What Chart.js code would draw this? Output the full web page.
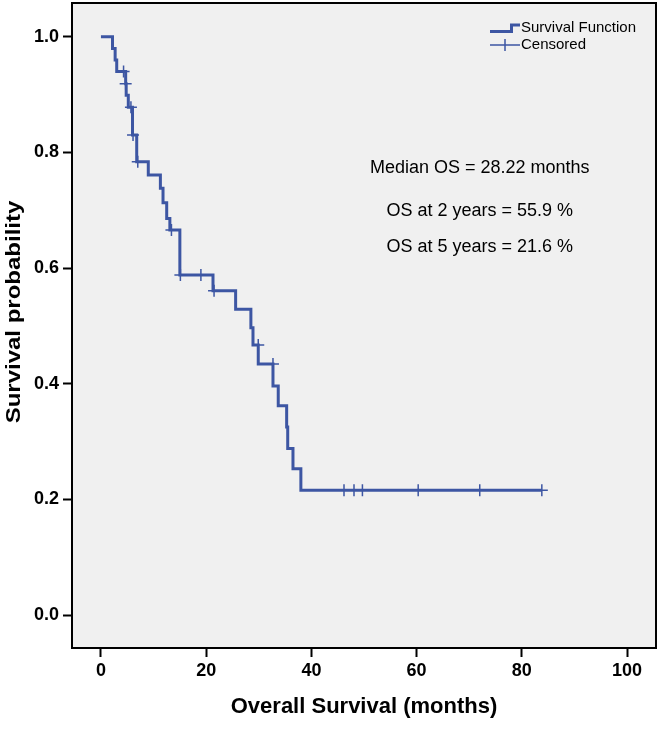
<!DOCTYPE html>
<html>
<head>
<meta charset="utf-8">
<title>Overall Survival</title>
<script src="https://cdn.jsdelivr.net/npm/chart.js@4.4.1/dist/chart.umd.min.js"></script>
<style>
  html, body { margin: 0; padding: 0; background: #fff; }
  #wrap { width: 662px; height: 729px; position: relative; }
</style>
</head>
<body>
<div id="wrap"><canvas id="kmChart"></canvas></div>
<script>
// Kaplan-Meier steps: month of each drop and survival after it
const stepTimes = [0, 2.2, 2.7, 3.0, 4.7, 4.8, 5.2, 6.0, 6.8, 9.0, 11.3, 11.8, 12.5, 13.1, 15.0,
  21.3, 25.6, 28.5, 28.9, 29.9, 32.7, 33.7, 35.3, 35.5, 36.5, 38.0, 83.8];
const stepSurvival = [1.0, 0.980, 0.960, 0.940, 0.919, 0.899, 0.878, 0.830, 0.784, 0.761, 0.738, 0.713, 0.686, 0.666, 0.588,
  0.561, 0.529, 0.497, 0.467, 0.434, 0.396, 0.362, 0.325, 0.288, 0.253, 0.216, 0.216];

// censored observations
const censorTimes = [4.3, 4.7, 5.7, 6.1, 7.0, 13.4, 15.1, 19.0, 21.5, 29.9, 32.7, 46.2, 48.1, 49.7, 60.3, 72.0, 83.8];
const censorSurvival = [0.940, 0.919, 0.878, 0.830, 0.784, 0.666, 0.588, 0.588, 0.561, 0.467, 0.434, 0.216, 0.216, 0.216, 0.216, 0.216, 0.216];

const xTickValues = [0, 20, 40, 60, 80, 100];
const yTickValues = [0, 0.2, 0.4, 0.6, 0.8, 1.0];
const summaryLines = ['Median OS = 28.22 months', 'OS at 2 years = 55.9 %', 'OS at 5 years = 21.6 %'];
const legendLabels = ['Survival Function', 'Censored'];
const yTitle = 'Survival probability';

const lineColor = '#3d56a3';
const fontFamily = "'Liberation Sans', Arial, sans-serif";

/**
 * Grey plot background and black frame
 */
const plotFrame = {
  id: 'plotFrame',
  beforeDraw(chart) {
    const { ctx, chartArea: a } = chart;
    ctx.save();
    ctx.fillStyle = '#ffffff';
    ctx.fillRect(0, 0, chart.width, chart.height);
    ctx.fillStyle = '#f0f0f0';
    ctx.fillRect(a.left, a.top, a.right - a.left, a.bottom - a.top);
    ctx.restore();
  },
  afterDatasetsDraw(chart) {
    const { ctx, chartArea: a } = chart;
    ctx.save();
    ctx.strokeStyle = '#000';
    ctx.lineWidth = 2;
    ctx.strokeRect(a.left, a.top, a.right - a.left, a.bottom - a.top);
    ctx.restore();
  }
};

/**
 * Summary text, legend and the y axis title
 */
const notes = {
  id: 'notes',
  afterDraw(chart) {
    const { ctx, chartArea: a, scales } = chart;
    ctx.save();

    // summary statistics
    ctx.fillStyle = '#000';
    ctx.font = '18px ' + fontFamily;
    ctx.textAlign = 'center';
    ctx.textBaseline = 'middle';
    const noteX = scales.x.getPixelForValue(72);
    const noteY = [0.773, 0.699, 0.636];
    summaryLines.forEach((txt, i) => {
      ctx.fillText(txt, noteX, scales.y.getPixelForValue(noteY[i]));
    });

    // legend
    const lx = a.right - 166;
    const row1 = a.top + 25;
    const row2 = a.top + 42;
    ctx.strokeStyle = lineColor;
    ctx.lineWidth = 3;
    ctx.beginPath();
    ctx.moveTo(lx, row1 + 3.5);
    ctx.lineTo(lx + 21.5, row1 + 3.5);
    ctx.lineTo(lx + 21.5, row1 - 3);
    ctx.lineTo(lx + 30, row1 - 3);
    ctx.stroke();

    ctx.lineWidth = 1.5;
    ctx.beginPath();
    ctx.moveTo(lx, row2);
    ctx.lineTo(lx + 30, row2);
    ctx.moveTo(lx + 15, row2 - 6);
    ctx.lineTo(lx + 15, row2 + 6);
    ctx.stroke();

    ctx.font = '15px ' + fontFamily;
    ctx.textAlign = 'left';
    ctx.fillText(legendLabels[0], lx + 31, row1);
    ctx.fillText(legendLabels[1], lx + 31, row2);

    // y title, a bit stretched along its length like the original
    ctx.translate(14, 312);
    ctx.rotate(-Math.PI / 2);
    ctx.scale(1.2, 1);
    ctx.font = 'bold 20px ' + fontFamily;
    ctx.textAlign = 'center';
    ctx.fillText(yTitle, 0, 0);
    ctx.restore();
  }
};

const ctx = document.getElementById('kmChart');

new Chart(ctx, {
  type: 'scatter',
  data: {
    datasets: [
      {
        label: legendLabels[1],
        data: censorTimes.map((t, i) => ({ x: t, y: censorSurvival[i] })),
        pointStyle: 'cross',
        pointRadius: 6,
        pointBorderWidth: 1.5,
        borderColor: lineColor,
        showLine: false
      },
      {
        label: legendLabels[0],
        data: stepTimes.map((t, i) => ({ x: t, y: stepSurvival[i] })),
        showLine: true,
        stepped: true,
        borderColor: lineColor,
        borderWidth: 3,
        pointRadius: 0,
        fill: false
      }
    ]
  },
  options: {
    responsive: true,
    maintainAspectRatio: false,
    animation: false,
    layout: {
      autoPadding: false,
      padding: { top: 3, right: 6, left: 0, bottom: 0 }
    },
    plugins: {
      legend: { display: false },
      tooltip: { enabled: false }
    },
    scales: {
      x: {
        type: 'linear',
        min: -5.5,
        max: 105.5,
        afterBuildTicks: (scale) => {
          scale.ticks = xTickValues.map(v => ({ value: v }));
        },
        afterFit: (scale) => {
          scale.height = 81;
          scale.paddingLeft = 0;
          scale.paddingRight = 0;
        },
        border: { display: false },
        grid: {
          drawOnChartArea: false,
          drawTicks: true,
          tickLength: 9,
          tickWidth: 2,
          tickColor: '#000'
        },
        ticks: {
          color: '#000',
          padding: 3,
          font: { family: fontFamily, size: 18, weight: 'bold' },
          callback: (value) => String(value)
        },
        title: {
          display: true,
          text: 'Overall Survival (months)',
          color: '#000',
          font: { family: fontFamily, size: 22, weight: 'bold' },
          padding: { top: 0, bottom: 9 }
        }
      },
      y: {
        type: 'linear',
        min: -0.057,
        max: 1.0585,
        afterBuildTicks: (scale) => {
          scale.ticks = yTickValues.map(v => ({ value: v }));
        },
        afterFit: (scale) => {
          scale.width = 72;
          scale.paddingTop = 0;
          scale.paddingBottom = 0;
        },
        border: { display: false },
        grid: {
          drawOnChartArea: false,
          drawTicks: true,
          tickLength: 9,
          tickWidth: 2,
          tickColor: '#000'
        },
        ticks: {
          color: '#000',
          padding: 4,
          font: { family: fontFamily, size: 18, weight: 'bold' },
          callback: (value) => Number(value).toFixed(1)
        },
        title: { display: false }
      }
    }
  },
  plugins: [plotFrame, notes]
});
</script>
</body>
</html>
